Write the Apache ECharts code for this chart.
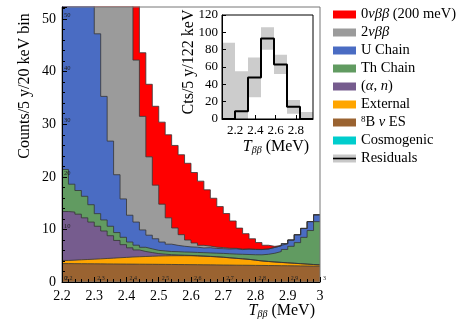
<!DOCTYPE html>
<html>
<head>
<meta charset="utf-8">
<script src="https://cdn.jsdelivr.net/npm/echarts@6/dist/echarts.min.js"></script>
<style>
html, body { margin: 0; padding: 0; background: #fff; }
#chart { width: 470px; height: 322px; }
</style>
</head>
<body>
<div id="chart"></div>
<script>
// 20 keV bins from 2.2 to 3.0 MeV (40 bins, 41 edges)
const binEdges = Array.from({length: 41}, (_, i) => (2.2 + 0.02 * i).toFixed(2))

// counts per bin for each component (stacked bottom -> top)
const cosmogenic = [0, 0, 0, 0, 0, 0, 0, 0, 0, 0, 0, 0, 0, 0, 0, 0, 0, 0, 0, 0,
  0, 0, 0, 0, 0, 0, 0, 0, 0, 0, 0, 0, 0, 0, 0, 0, 0, 0, 0, 0]
const b8 = [3.50, 3.49, 3.48, 3.47, 3.46, 3.45, 3.44, 3.43, 3.42, 3.41, 3.40, 3.39, 3.38, 3.37, 3.36, 3.35, 3.34, 3.32, 3.31, 3.30,
  3.29, 3.27, 3.26, 3.25, 3.23, 3.22, 3.20, 3.19, 3.18, 3.16, 3.15, 3.13, 3.12, 3.10, 3.09, 3.07, 3.06, 3.04, 3.03, 3.01]
const external = [0.60, 0.67, 0.74, 0.81, 0.88, 0.95, 1.03, 1.11, 1.19, 1.27, 1.35, 1.41, 1.47, 1.53, 1.58, 1.62, 1.65, 1.68, 1.69, 1.69,
  1.66, 1.63, 1.59, 1.53, 1.47, 1.38, 1.30, 1.21, 1.12, 0.99, 0.85, 0.77, 0.68, 0.62, 0.55, 0.49, 0.42, 0.36, 0.29, 0.24]
const alphaN = [9.3, 9.14, 8.68, 7.92, 7.06, 6.2, 5.23, 4.26, 3.29, 2.42, 1.75, 1.3, 0.95, 0.7, 0.46, 0.33, 0.21, 0.15, 0.1, 0.07,
  0.05, 0.04, 0.03, 0.02, 0.02, 0.01, 0.01, 0.01, 0.01, 0.01, 0.01, 0.01, 0.01, 0.01, 0.01, 0.01, 0.01, 0.01, 0.01, 0.01]
const thChain = [8.0, 5.3, 4.5, 4.1, 3.3, 2.4, 2.1, 1.8, 1.5, 1.4, 1.1, 0.9, 0.8, 0.7, 0.62, 0.6, 0.6, 0.62, 0.6, 0.62,
  0.62, 0.64, 0.65, 0.68, 0.72, 0.76, 0.8, 0.86, 0.92, 1.02, 1.16, 1.36, 1.66, 2.06, 2.54, 3.22, 4.0, 5.08, 6.46, 8.22]
const uChain = [215, 150, 104, 72, 50, 34.2, 23.5, 16.2, 11.0, 7.3, 5.1, 4.4, 3.3, 2.6, 2.2, 1.7, 1.4, 1.2, 1.1, 1.0,
  1.0, 0.9, 1.0, 0.9, 0.9, 0.9, 1.0, 0.9, 1.0, 1.0, 1.0, 1.0, 1.1, 1.1, 1.1, 1.2, 1.5, 1.7, 1.7, 1.3]
const twoNuBB = [380, 325, 275, 230, 190, 155, 124, 98, 76, 58, 43, 30.8, 21.6, 14.9, 10.2, 7.2, 5.0, 3.3, 2.2, 1.3,
  0.8, 0.5, 0.3, 0.25, 0.2, 0.15, 0.1, 0.08, 0.06, 0.04, 0.03, 0.02, 0.01, 0.01, 0, 0, 0, 0, 0, 0]
const zeroNuBB = [0.5, 0.8, 1.3, 2.0, 3.0, 4.0, 5.5, 7.0, 8.5, 10.0, 11.0, 12.0, 12.1, 13.8, 15.0, 15.6, 15.8, 15.7, 15.2, 14.6,
  13.4, 12.2, 10.7, 9.3, 7.8, 6.6, 5.2, 4.0, 2.9, 2.0, 1.3, 0.7, 0.2, 0.05, 0, 0, 0, 0, 0, 0]

// inset: residuals, 7 bins
const resEdges = ['e0', 'e1', 'e2', 'e3', 'e4', 'e5', 'e6', 'e7']
const residuals = [0, 9, 48, 93, 63, 14, 0]
const resLow = [0, 0, 25, 80, 52, 6, 0]
const resHigh = [88, 55, 71, 106, 74, 22, 8]

const insetXTicks = [2.2, 2.4, 2.6, 2.8]

const serif = 'Liberation Serif'
const colors = {
  '0νββ (200 meV)': '#ff0000',
  '2νββ': '#9b9b9b',
  'U Chain': '#4a6cc3',
  'Th Chain': '#619b61',
  '(α, n)': '#765c8e',
  'External': '#ffa500',
  '8B ν ES': '#9a6331',
  'Cosmogenic': '#00cdcd',
  'Residuals': '#c8c8c8'
}
const legendText = {
  '0νββ (200 meV)': '0{it|νββ} (200 meV)',
  '2νββ': '2{it|νββ}',
  '(α, n)': '({it|α}, {it|n})',
  '8B ν ES': '{sup|8}B {it|ν} ES'
}

// bottom -> top
const layers = [
  ['Cosmogenic', cosmogenic],
  ['8B ν ES', b8],
  ['External', external],
  ['(α, n)', alphaN],
  ['Th Chain', thChain],
  ['U Chain', uChain],
  ['2νββ', twoNuBB],
  ['0νββ (200 meV)', zeroNuBB]
]

// repeat the last value so the final step reaches the right edge
const hist = vals => vals.concat([vals[vals.length - 1]])

// running totals, each layer filled down to zero, drawn top layer first
let running = new Array(40).fill(0)
const layerSeries = layers.map(([name, vals]) => {
  running = running.map((r, i) => r + vals[i])
  return {
    name: name, type: 'line', step: 'end', symbol: 'none',
    xAxisIndex: 0, yAxisIndex: 0,
    data: hist(running),
    lineStyle: {color: '#353535', width: name === 'Cosmogenic' ? 0 : 0.8},
    areaStyle: {color: colors[name], opacity: 1},
    itemStyle: {color: colors[name]},
    emphasis: {disabled: true}
  }
}).reverse()

const chart = echarts.init(document.getElementById('chart'))
const onlyTens = v => (Math.abs(v % 10) < 1e-6 ? String(v) : '')
const titleRich = {
  i: {fontStyle: 'italic', fontSize: 16, fontFamily: serif},
  s: {fontStyle: 'italic', fontSize: 10, fontFamily: serif, padding: [7, 0, 0, 0]}
}

const option = {
  animation: false,
  grid: [
    {left: 62, right: 150, top: 7, bottom: 40, show: true, borderColor: '#777', borderWidth: 1, backgroundColor: 'transparent', z: 10},
    {left: 222, right: 157, top: 15, bottom: 203, show: true, borderColor: '#000', borderWidth: 1, backgroundColor: 'transparent', z: 10}
  ],
  xAxis: [
    {type: 'category', gridIndex: 0, data: binEdges, boundaryGap: false, show: false},
    {
      type: 'value', gridIndex: 0, min: 2.2, max: 3.0, interval: 0.1, position: 'bottom', z: 10,
      axisLine: {lineStyle: {color: '#000', width: 1}},
      axisTick: {inside: true, length: 5, lineStyle: {color: '#000'}},
      minorTick: {show: true, splitNumber: 5, length: 3, lineStyle: {color: '#000'}},
      axisLabel: {fontFamily: serif, fontSize: 14, color: '#000', margin: 7},
      splitLine: {show: false}
    },
    {
      type: 'value', gridIndex: 0, min: 2.2, max: 3.0, interval: 0.1, position: 'bottom', z: 11,
      axisLine: {show: false}, axisTick: {show: false}, splitLine: {show: false},
      axisLabel: {inside: true, fontFamily: serif, fontSize: 6, color: '#222', margin: 1, align: 'left', padding: [0, 0, 0, 3]}
    },
    {type: 'category', gridIndex: 1, data: resEdges, boundaryGap: false, show: false},
    {
      type: 'value', gridIndex: 1, min: 2.07, max: 2.97, position: 'bottom', z: 10,
      axisLine: {lineStyle: {color: '#000'}},
      axisTick: {inside: true, length: 4, customValues: insetXTicks, lineStyle: {color: '#000'}},
      axisLabel: {customValues: insetXTicks, fontFamily: serif, fontSize: 13, color: '#000', margin: 5},
      splitLine: {show: false}
    }
  ],
  yAxis: [
    {
      type: 'value', gridIndex: 0, min: 0, max: 52.3, interval: 10, z: 10,
      axisLine: {show: true, lineStyle: {color: '#000', width: 1}},
      axisTick: {show: true, inside: true, length: 5, lineStyle: {color: '#000'}},
      minorTick: {show: true, splitNumber: 5, length: 3, lineStyle: {color: '#000'}},
      axisLabel: {formatter: onlyTens, fontFamily: serif, fontSize: 14, color: '#000', margin: 6},
      splitLine: {show: false}
    },
    {
      type: 'value', gridIndex: 0, min: 0, max: 52.3, interval: 10, position: 'left', z: 11,
      axisLine: {show: false}, axisTick: {show: false}, splitLine: {show: false},
      axisLabel: {inside: true, formatter: onlyTens, fontFamily: serif, fontSize: 6.5, color: '#222', margin: 2, verticalAlign: 'bottom'}
    },
    {
      type: 'value', gridIndex: 1, min: 0, max: 120, interval: 20, z: 10,
      axisLine: {show: true, lineStyle: {color: '#000'}},
      axisTick: {show: true, inside: true, length: 4, lineStyle: {color: '#000'}},
      axisLabel: {fontFamily: serif, fontSize: 13, color: '#000', margin: 4},
      splitLine: {show: false}
    }
  ],
  legend: {
    orient: 'vertical', left: 333, top: 7, padding: 0, itemGap: 3,
    itemWidth: 23, itemHeight: 8,
    selectedMode: false,
    data: Object.keys(colors).map(n => ({name: n, icon: 'rect', itemStyle: {color: colors[n], borderWidth: 0}})),
    formatter: n => legendText[n] || n,
    textStyle: {
      fontFamily: serif, fontSize: 14.5, color: '#000', lineHeight: 15,
      rich: {
        it: {fontFamily: serif, fontSize: 14.5, fontStyle: 'italic', color: '#000'},
        sup: {fontFamily: serif, fontSize: 9, color: '#000', padding: [0, 0, 6, 0]}
      }
    }
  },
  graphic: [
    {
      type: 'text', x: 25, y: 86, rotation: Math.PI / 2,
      style: {text: 'Counts/5 y/20 keV bin', font: '16px "Liberation Serif"', fill: '#000', align: 'center', verticalAlign: 'middle'}
    },
    {
      type: 'text', x: 315, y: 311,
      style: {text: '{i|T}{s|ββ} (MeV)', font: '16px "Liberation Serif"', fill: '#000', align: 'right', verticalAlign: 'middle', rich: titleRich}
    },
    {
      type: 'text', x: 189, y: 62, rotation: Math.PI / 2,
      style: {text: 'Cts/5 y/122 keV', font: '16px "Liberation Serif"', fill: '#000', align: 'center', verticalAlign: 'middle'}
    },
    {
      type: 'text', x: 276, y: 147,
      style: {text: '{i|T}{s|ββ} (MeV)', font: '16px "Liberation Serif"', fill: '#000', align: 'center', verticalAlign: 'middle', rich: titleRich}
    },
    {
      type: 'line', z: 100,
      shape: {x1: 333, y1: 158.5, x2: 356, y2: 158.5},
      style: {stroke: '#000', lineWidth: 1.6}
    }
  ],
  series: layerSeries.concat([
    {
      name: 'resHigh', type: 'line', step: 'end', symbol: 'none',
      xAxisIndex: 3, yAxisIndex: 2, data: hist(resHigh),
      lineStyle: {width: 0}, areaStyle: {color: '#cccccc', opacity: 1}
    },
    {
      name: 'resLow', type: 'line', step: 'end', symbol: 'none',
      xAxisIndex: 3, yAxisIndex: 2, data: hist(resLow),
      lineStyle: {width: 0}, areaStyle: {color: '#ffffff', opacity: 1}
    },
    {
      name: 'Residuals', type: 'line', step: 'end', symbol: 'none',
      xAxisIndex: 3, yAxisIndex: 2, data: hist(residuals),
      lineStyle: {color: '#000', width: 2}, itemStyle: {color: '#000'}
    }
  ])
}
chart.setOption(option)
</script>
</body>
</html>
